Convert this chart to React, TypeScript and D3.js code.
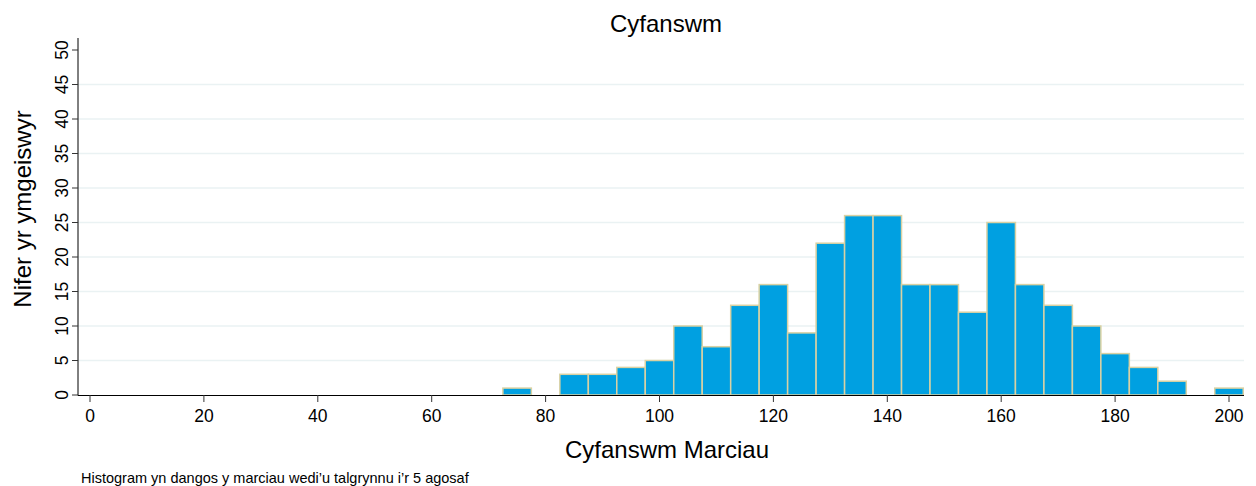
import { useEffect, useRef } from "react";
import * as d3 from "d3";

const W = 1256;
const H = 486;
const MARGIN = { top: 50, right: 12, bottom: 91, left: 78 };

// bin centres (marks rounded to nearest 5) and counts
const binCentres = [75, 80, 85, 90, 95, 100, 105, 110, 115, 120, 125, 130, 135, 140, 145, 150, 155, 160, 165, 170, 175, 180, 185, 190, 195, 200];
const counts = [1, 0, 3, 3, 4, 5, 10, 7, 13, 16, 9, 22, 26, 26, 16, 16, 12, 25, 16, 13, 10, 6, 4, 2, 0, 1];
const xTicks = [0, 20, 40, 60, 80, 100, 120, 140, 160, 180, 200];
const yTicks = [0, 5, 10, 15, 20, 25, 30, 35, 40, 45, 50];
const gridTicks = [5, 10, 15, 20, 25, 30, 35, 40, 45];

const FONT = "'Liberation Sans', Arial, sans-serif";

export default function App() {
  const ref = useRef<SVGSVGElement>(null);

  useEffect(() => {
    const svg = d3.select(ref.current);
    svg.selectAll("*").remove();

    const x = d3.scaleLinear().domain([0, 200]).range([90, 1229]);
    const y = d3.scaleLinear().domain([0, 50]).range([395, MARGIN.top]);
    const y0 = y(0);
    const right = W - MARGIN.right;

    // gridlines
    svg
      .append("g")
      .selectAll("line")
      .data(gridTicks)
      .join("line")
      .attr("x1", MARGIN.left)
      .attr("x2", right)
      .attr("y1", (d) => y(d))
      .attr("y2", (d) => y(d))
      .attr("stroke", "#eaf2f3")
      .attr("stroke-width", 1.5);

    // bars
    const data = binCentres.map((c, i) => ({ c, n: counts[i] })).filter((d) => d.n > 0);
    svg
      .append("g")
      .selectAll("rect")
      .data(data)
      .join("rect")
      .attr("x", (d) => x(d.c - 2.5))
      .attr("width", (d) => x(d.c + 2.5) - x(d.c - 2.5))
      .attr("y", (d) => y(d.n))
      .attr("height", (d) => y0 - y(d.n))
      .attr("fill", "#00a0e1")
      .attr("stroke", "#d9d1a3")
      .attr("stroke-width", 1.5);

    // axis lines
    svg
      .append("line")
      .attr("x1", MARGIN.left)
      .attr("x2", right)
      .attr("y1", y0 + 0.5)
      .attr("y2", y0 + 0.5)
      .attr("stroke", "#000")
      .attr("stroke-width", 1);
    svg
      .append("line")
      .attr("x1", MARGIN.left)
      .attr("x2", MARGIN.left)
      .attr("y1", 38)
      .attr("y2", y0 + 0.5)
      .attr("stroke", "#000")
      .attr("stroke-width", 1);

    // x ticks
    const xg = svg.append("g").selectAll("g").data(xTicks).join("g").attr("transform", (d) => `translate(${x(d)},${y0})`);
    xg.append("line").attr("y1", 0).attr("y2", 7).attr("stroke", "#333").attr("stroke-width", 1);
    xg.append("text")
      .attr("y", 27)
      .attr("text-anchor", "middle")
      .attr("font-family", FONT)
      .attr("font-size", 17.5)
      .attr("fill", "#000")
      .text((d) => d);

    // y ticks
    const yg = svg.append("g").selectAll("g").data(yTicks).join("g").attr("transform", (d) => `translate(${MARGIN.left},${y(d)})`);
    yg.append("line").attr("x1", 0).attr("x2", -6).attr("stroke", "#333").attr("stroke-width", 1);
    yg.append("text")
      .attr("transform", "translate(-10,0) rotate(-90)")
      .attr("text-anchor", "middle")
      .attr("font-family", FONT)
      .attr("font-size", 17.5)
      .attr("fill", "#000")
      .text((d) => d);

    // titles
    svg
      .append("text")
      .attr("x", 666)
      .attr("y", 32)
      .attr("text-anchor", "middle")
      .attr("font-family", FONT)
      .attr("font-size", 24)
      .text("Cyfanswm");
    svg
      .append("text")
      .attr("x", 667)
      .attr("y", 458)
      .attr("text-anchor", "middle")
      .attr("font-family", FONT)
      .attr("font-size", 24)
      .text("Cyfanswm Marciau");
    svg
      .append("text")
      .attr("transform", `translate(31,209) rotate(-90)`)
      .attr("text-anchor", "middle")
      .attr("font-family", FONT)
      .attr("font-size", 24)
      .text("Nifer yr ymgeiswyr");
    svg
      .append("text")
      .attr("x", 81)
      .attr("y", 483)
      .attr("font-family", FONT)
      .attr("font-size", 14.5)
      .text("Histogram yn dangos y marciau wedi\u2019u talgrynnu i\u2019r 5 agosaf");
  }, []);

  return (
    <svg
      ref={ref}
      width={W}
      height={H}
      style={{ position: "absolute", left: 0, top: 0, background: "#fff" }}
    />
  );
}
